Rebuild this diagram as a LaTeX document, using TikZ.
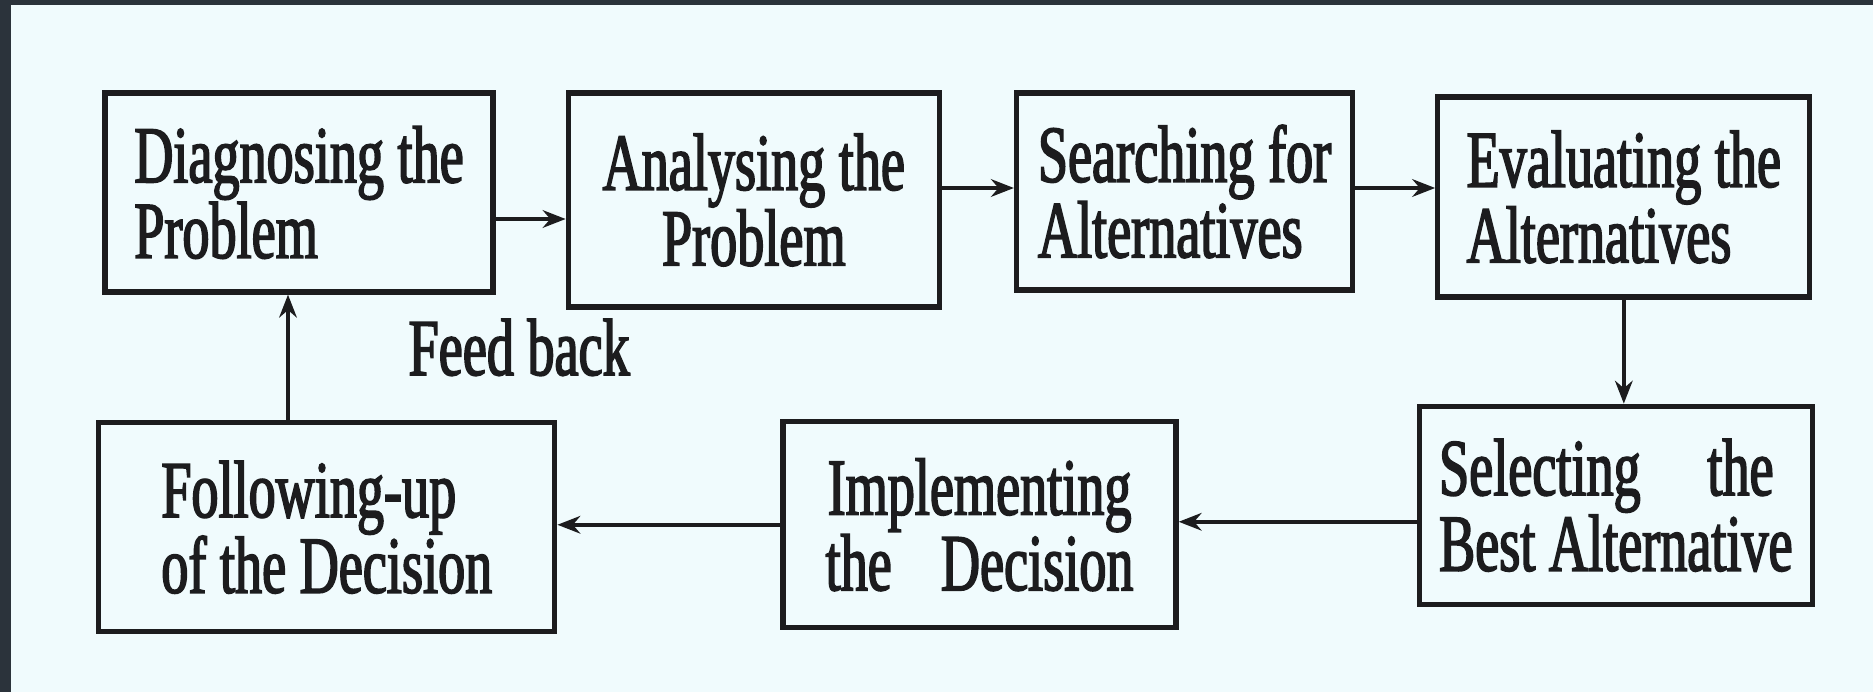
\documentclass[tikz,border=0pt]{standalone}
\usepackage{fontspec}
\setmainfont{Liberation Serif}[FakeStretch=0.67,FakeBold=2]
\usetikzlibrary{arrows.meta,positioning}
\definecolor{frame}{RGB}{43,51,59}
\definecolor{paper}{RGB}{240,251,253}
\definecolor{ink}{RGB}{28,28,30}

\begin{document}
\begin{tikzpicture}[->,>={Stealth[length=6.5pt,width=5pt]},line width=1.1pt,
                    color=ink,auto]
  \tikzstyle{stage}=[rectangle,draw=ink,line width=1.5pt,text=ink,
                     font=\fontsize{23}{21.5}\selectfont,inner sep=2pt]

  \useasboundingbox (0,0) rectangle (18.73,6.92);
  \fill[frame] (0,0) rectangle (18.73,6.92);
  \fill[paper] (0.11,0) rectangle (18.73,6.87);

  \node[stage,align=left,minimum width=3.88cm,minimum height=1.99cm]
        (A) at (2.99,4.995) {Diagnosing the\\Problem};
  \node[stage,align=center,minimum width=3.71cm,minimum height=2.14cm]
        (B) [right=0.70cm of A,yshift=-0.75mm] {Analysing the\\Problem};
  \node[stage,align=left,minimum width=3.36cm,minimum height=1.97cm]
        (C) [right=0.72cm of B,yshift=0.85mm] {Searching for\\Alternatives};
  \node[stage,align=left,minimum width=3.72cm,minimum height=2.00cm]
        (D) [right=0.80cm of C,yshift=-0.55mm] {Evaluating the\\Alternatives};
  \node[stage,align=left,minimum width=3.93cm,minimum height=1.98cm]
        (E) [below=1.04cm of D,xshift=-0.8mm] {Selecting\hspace{19pt}the\\Best Alternative};
  \node[stage,align=center,minimum width=3.93cm,minimum height=2.06cm]
        (F) [left=2.38cm of E,yshift=-1.95mm] {Implementing\\the\hspace{14pt}Decision};
  \node[stage,align=left,minimum width=4.56cm,minimum height=2.09cm]
        (G) [left=2.23cm of F,yshift=-0.25mm] {Following-up\\of the Decision};

  \coordinate (ab) at ([yshift=-2.65mm]A.east);
  \coordinate (bc) at ([yshift=1.2mm]B.east);
  \coordinate (cd) at ([yshift=0.35mm]C.east);
  \coordinate (ef) at ([yshift=-1.65mm]E.west);
  \coordinate (ga) at ([xshift=-1.1mm]A.south);

  \path (ab) edge (ab -| B.west)
        (bc) edge (bc -| C.west)
        (cd) edge (cd -| D.west)
        (D.south) edge (D.south |- E.north)
        (ef) edge (ef -| F.east)
        (F.west) edge (F.west -| G.east)
        (ga |- G.north) edge node[right,xshift=1.07cm,yshift=1mm,
                                  font=\fontsize{23}{21.5}\selectfont] (H) {Feed back} (ga);
\end{tikzpicture}
\end{document}
